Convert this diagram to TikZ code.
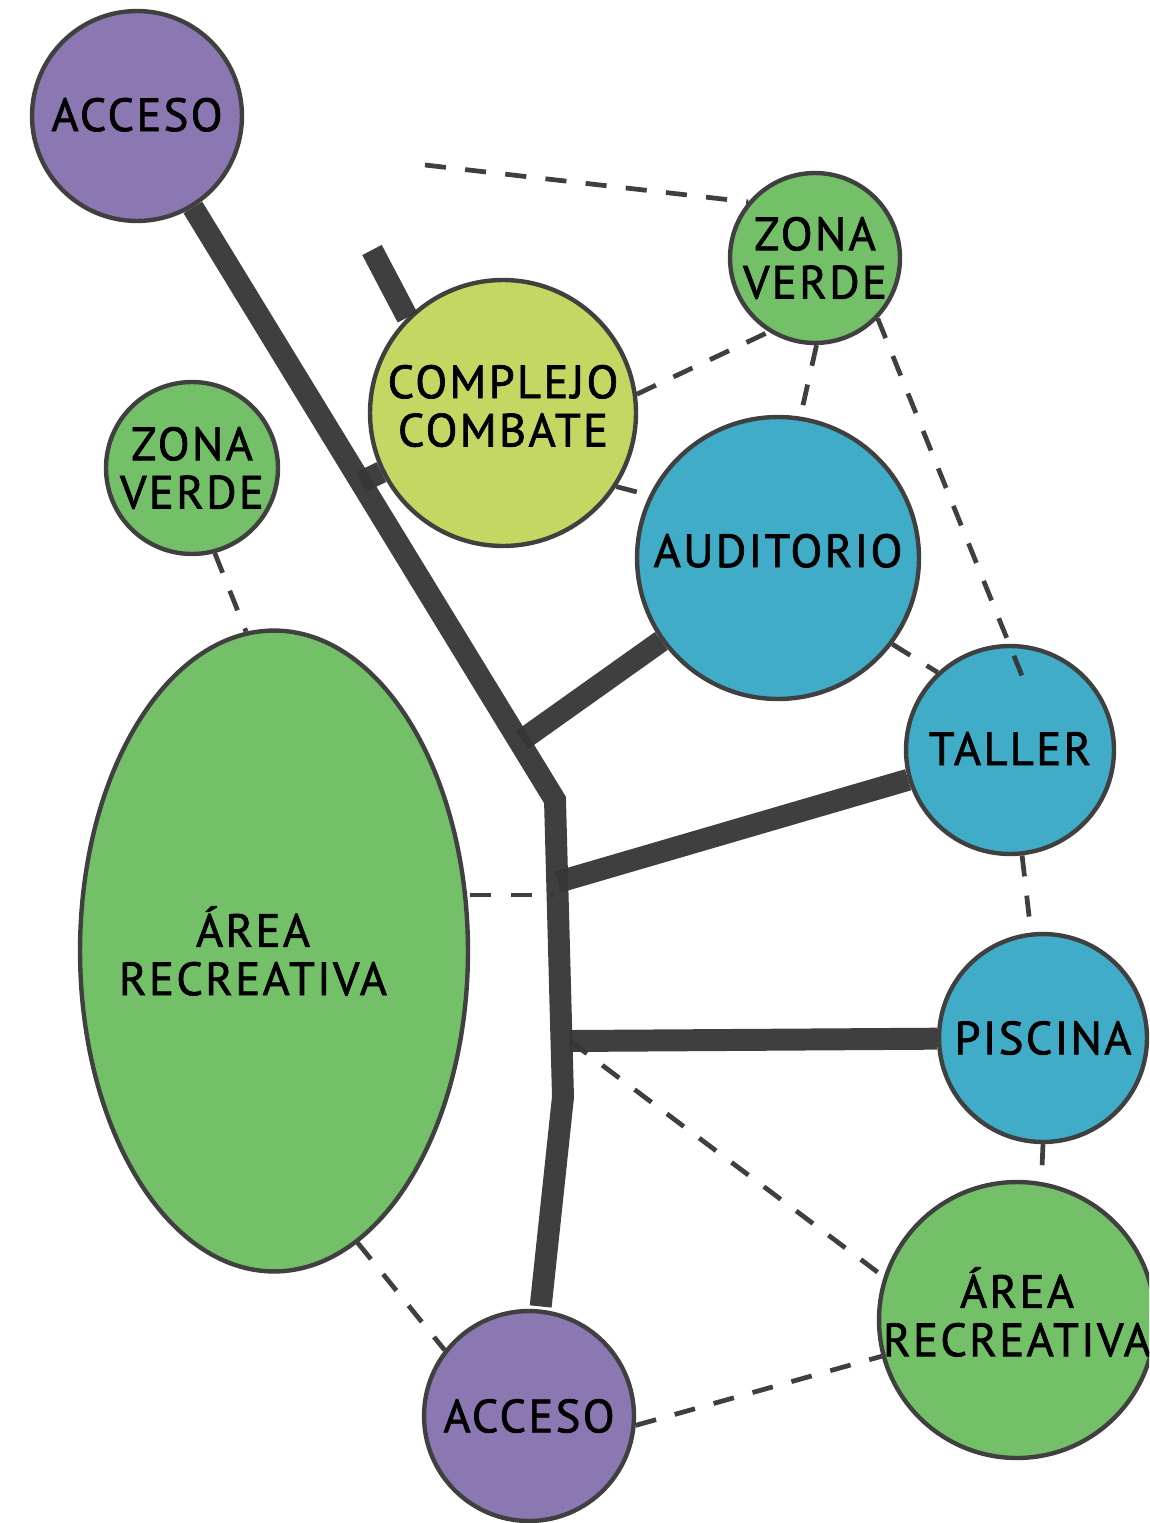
\documentclass[tikz,border=0pt]{standalone}
\usepackage{fontspec}
\setmainfont{PT Sans}[LetterSpace=5,FakeBold=1.5]
\usepackage{xcolor}
\usetikzlibrary{shapes.geometric,calc}

\definecolor{lila}{HTML}{8B77B1}
\definecolor{verde}{HTML}{74C069}
\definecolor{lima}{HTML}{C4D762}
\definecolor{azul}{HTML}{40ACC8}
\definecolor{borde}{HTML}{404040}
\definecolor{via}{HTML}{353535}

\begin{document}
\begin{tikzpicture}[
  x=0.02cm, y=-0.02cm,
  every node/.style={font=\fontsize{26.5}{27.5}\selectfont, align=center, inner sep=0pt},
  zona/.style={circle, draw=borde, line width=2.5pt},
  road/.style={line width=12.5pt, draw=via, opacity=0.95},
  link/.style={line width=2.7pt, draw=via, dash pattern=on 12pt off 11pt, opacity=0.95},
]
\clip (0,0) rectangle (1149,1523);

% === Zones ===
\node[zona, fill=lila, minimum size=4.2cm] (acctop) at (137,116) {\raisebox{0.06cm}{ACCESO}};
\node[zona, fill=verde, minimum size=3.4cm] (zvtop) at (815,258) {ZONA\\VERDE};
\node[zona, fill=lima, minimum size=5.32cm,
  label={[yshift=0.14cm]center:COMPLEJO\\COMBATE}] (complejo) at (503,413) {};
\node[zona, fill=verde, minimum size=3.44cm] (zvleft) at (192,468) {ZONA\\VERDE};
\node[zona, fill=azul, minimum size=5.64cm] (auditorio) at (778,558) {\raisebox{0.3cm}{AUDITORIO}};
\node[zona, fill=azul, minimum size=4.16cm] (taller) at (1010,750) {\raisebox{0.06cm}{TALLER}};
\node[ellipse, draw=borde, line width=2.5pt, fill=verde,
  minimum width=7.76cm, minimum height=12.82cm,
  label={[xshift=-0.42cm]center:ÁREA\\RECREATIVA}] (arearec) at (274,951) {};
\node[zona, fill=azul, minimum size=4.16cm] (piscina) at (1043,1038) {PISCINA};
\node[zona, fill=verde, minimum size=5.52cm,
  label={[yshift=0.16cm]center:ÁREA\\RECREATIVA}] (arearight) at (1017,1320) {};
\node[zona, fill=lila, minimum size=4.2cm] (accbot) at (529,1416) {ACCESO};

% === Spine points ===
\coordinate (kneeA) at (555,800);
\coordinate (kneeB) at (563,1097);
\coordinate (jComb) at (361,482);
\coordinate (jAud) at (522,740);
\coordinate (jTal) at (558,882);
\coordinate (jLeft) at (555,895);
\coordinate (jPis) at (570,1041);
\coordinate (stubTop) at (372,250);
\coordinate (dashTop) at (425,165);

% === Roads ===
\draw[road, shorten >=0.06cm] (acctop) -- (kneeA) -- (kneeB) -- (accbot);
\draw[road] (jComb) -- (complejo);
\draw[road] (stubTop) -- (complejo.135);
\draw[road] (jAud) -- (auditorio);
\draw[road] (jTal) -- (taller);
\draw[road] (jPis) -- (piscina);

% === Relations ===
\draw[link] (dashTop) -- (zvtop.140);
\draw[link] (complejo.8) -- (zvtop.238);
\draw[link] (zvtop.-89) -- (auditorio.81);
\draw[link] (zvtop.-44) -- ([shift={(12,32)}]taller.north);
\draw[link] (complejo.-33) -- (auditorio.154);
\draw[link] (auditorio.-37) -- (taller.133);
\draw[link] (zvleft.285) -- (arearec.95);
\draw[link] (arearec.east |- jLeft) -- (jLeft);
\draw[link] (taller) -- (piscina);
\draw[link] (piscina.south) -- (arearight.80);
\draw[link] (jPis) -- (arearight.162);
\draw[link] (arearec.-74) -- (accbot.142);
\draw[link] (accbot.-5) -- (arearight.195);

\end{tikzpicture}
\end{document}
